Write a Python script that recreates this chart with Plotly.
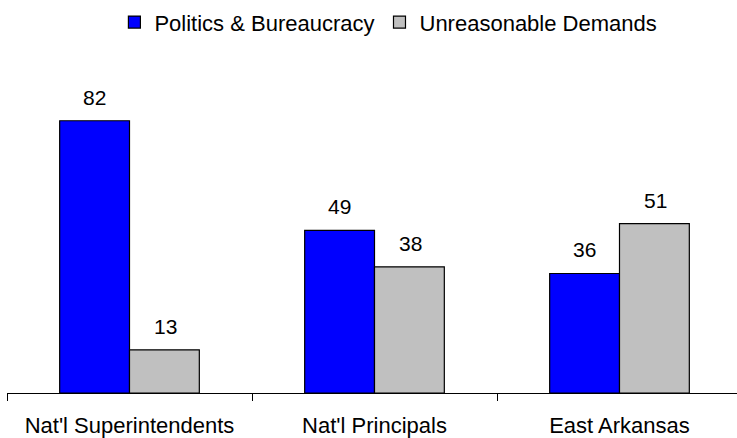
import plotly.graph_objects as go

categories = ["Nat'l Superintendents", "Nat'l Principals", "East Arkansas"]
politics = [82, 49, 36]
demands = [13, 38, 51]
series_names = ["Politics & Bureaucracy", "Unreasonable Demands"]

FONT = "Arial, Liberation Sans, sans-serif"

fig = go.Figure()
fig.add_trace(go.Bar(
    x=categories, y=politics, name=series_names[0],
    marker=dict(color="#0000FF", line=dict(color="#000000", width=1.2)),
))
fig.add_trace(go.Bar(
    x=categories, y=demands, name=series_names[1],
    marker=dict(color="#C0C0C0", line=dict(color="#000000", width=1.2)),
))

# value labels above each bar
for vals, shift in ((politics, -35.5), (demands, 35.5)):
    for cat, v in zip(categories, vals):
        fig.add_annotation(
            x=cat, y=v, text=str(v), showarrow=False,
            xshift=shift, yanchor="bottom", yshift=10,
            font=dict(family=FONT, size=21, color="#000000"),
        )

fig.update_layout(
    width=737, height=438,
    margin=dict(l=7, r=0, t=61, b=42),
    paper_bgcolor="white", plot_bgcolor="white",
    barmode="group", bargap=0.43, bargroupgap=0,
    font=dict(family=FONT, size=21, color="#000000"),
    showlegend=True,
    legend=dict(
        orientation="h", x=0.527, xanchor="center", xref="container",
        y=0.997, yanchor="top", yref="container",
        font=dict(size=22),
        itemwidth=30, tracegroupgap=0,
    ),
    xaxis=dict(
        type="category", range=[-0.5, 2.4796],
        showline=True, linecolor="#000000", linewidth=1,
        ticks="outside", tickson="boundaries", ticklen=7,
        tickcolor="#000000", tickwidth=1,
        ticklabelstandoff=13,
        showgrid=False, zeroline=False,
        tickfont=dict(size=22),
    ),
    yaxis=dict(
        range=[0, 100], visible=False, showgrid=False, zeroline=False,
    ),
)

fig.write_html("out.html")
